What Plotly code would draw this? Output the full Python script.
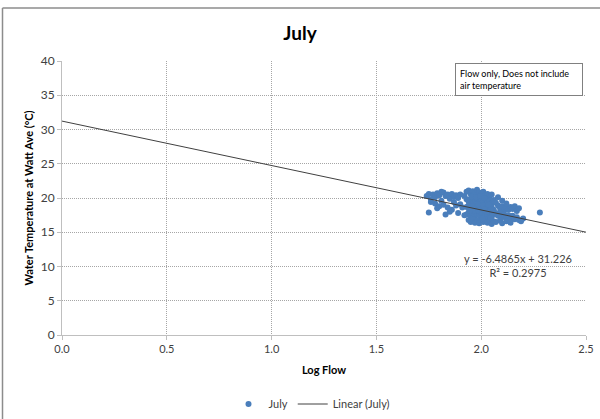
import plotly.graph_objects as go

# July observations: log of flow vs. water temperature at Watt Ave (°C)
log_flow = [
    1.74, 1.75, 1.76, 1.77, 1.78, 1.75, 1.79, 1.80, 1.81, 1.82, 1.83, 1.84, 1.85, 1.86, 1.87, 1.88, 1.89,
    1.78, 1.80, 1.82, 1.84, 1.86, 1.88, 1.83, 1.79, 1.76, 1.85, 1.87, 1.81, 1.90, 1.90, 1.89, 1.91, 1.92, 1.92,
    1.93, 1.94, 1.95, 1.96, 1.97, 1.98, 1.99, 2.00, 2.01, 2.02, 2.03, 2.04, 2.05,
    1.93, 1.94, 1.95, 1.96, 1.97, 1.98, 1.99, 2.00, 2.01, 2.02, 2.03, 2.04, 2.05, 2.06,
    1.93, 1.94, 1.95, 1.96, 1.97, 1.98, 1.99, 2.00, 2.01, 2.02, 2.03, 2.04, 2.05, 2.06,
    1.93, 1.94, 1.95, 1.96, 1.97, 1.98, 1.99, 2.00, 2.01, 2.02, 2.03, 2.04, 2.05, 2.06,
    1.94, 1.95, 1.96, 1.97, 1.98, 1.99, 2.00, 2.01, 2.02, 2.03, 2.04, 2.05, 2.06,
    1.955, 1.975, 1.995, 2.015, 1.965, 1.985, 2.005, 2.025, 2.045, 1.945, 2.035, 2.015, 1.985, 2.055,
    2.07, 2.08, 2.09, 2.10, 2.11, 2.12, 2.13, 2.14, 2.15, 2.16, 2.17, 2.18,
    2.07, 2.08, 2.09, 2.10, 2.11, 2.12, 2.13, 2.14, 2.15, 2.16, 2.17, 2.18,
    2.07, 2.09, 2.10, 2.12, 2.14, 2.08, 2.10, 2.12, 2.19, 2.20, 2.28,
]
water_temp = [
    20.3, 20.6, 19.8, 20.5, 20.1, 17.9, 20.7, 20.4, 19.6, 20.8, 20.3, 20.5, 19.9, 20.6, 20.2, 20.4, 20.0,
    19.2, 18.8, 19.0, 18.6, 18.3, 18.9, 17.6, 18.5, 19.4, 18.0, 19.4, 20.9, 20.5, 19.1, 17.8, 18.6, 20.3, 17.5,
    20.9, 21.1, 20.6, 21.0, 20.7, 21.2, 20.8, 20.5, 20.9, 20.4, 20.6, 20.2, 20.5,
    19.8, 19.5, 19.9, 19.3, 19.7, 19.9, 19.4, 19.8, 19.5, 19.9, 19.3, 19.6, 19.2, 19.7,
    18.7, 18.9, 18.4, 18.8, 18.5, 18.9, 18.3, 18.6, 18.9, 18.4, 18.7, 18.2, 18.6, 18.3,
    17.6, 17.9, 17.4, 17.8, 17.3, 17.7, 17.5, 17.9, 17.2, 17.6, 17.4, 17.8, 17.3, 17.6,
    16.8, 16.5, 16.9, 16.4, 16.7, 16.3, 16.8, 16.5, 16.9, 16.4, 16.7, 16.2, 16.6,
    20.2, 20.1, 20.3, 20.0, 18.1, 18.2, 17.0, 18.0, 17.1, 18.2, 19.0, 18.3, 19.1, 17.9,
    19.3, 18.9, 18.5, 18.8, 18.2, 18.6, 18.3, 18.7, 18.4, 18.8, 18.1, 18.5,
    17.8, 17.4, 17.9, 17.2, 17.6, 17.1, 17.5, 17.0, 17.4, 16.9, 17.2, 16.8,
    16.5, 16.7, 16.3, 16.6, 16.4, 20.1, 19.6, 19.2, 16.6, 17.0, 17.9,
]

# Linear trendline coefficients
slope = -6.4865
intercept = 31.226
r_squared = 0.2975
trend_x = [0.0, 2.5]
trend_y = [slope * x + intercept for x in trend_x]

x_ticks = [0.0, 0.5, 1.0, 1.5, 2.0, 2.5]
y_ticks = [0, 5, 10, 15, 20, 25, 30, 35, 40]

FONT = "Lato"
TEXT = "#404040"
GRID = "#A6A6A6"

# plot area in pixels
L, R, T, B = 62, 586, 61, 335
W, H = R - L, B - T


def px(xp):
    return (xp - L) / W


def py(yp):
    return (B - yp) / H


fig = go.Figure()
fig.add_trace(go.Scatter(
    x=log_flow, y=water_temp, mode="markers", name="July",
    marker=dict(color="#4A7EBB", size=6, line=dict(width=0)),
))
fig.add_trace(go.Scatter(
    x=trend_x, y=trend_y, mode="lines", name="Linear (July)",
    line=dict(color="#404040", width=1),
))

fig.update_layout(
    width=600, height=419,
    margin=dict(l=L, r=600 - R, t=T, b=419 - B, autoexpand=False),
    paper_bgcolor="white", plot_bgcolor="white",
    font=dict(family=FONT, size=11, color=TEXT),
    title=dict(text="<b>July</b>", x=0.5, xanchor="center", y=1 - 33 / 419, yanchor="middle",
               font=dict(family=FONT, size=19, color="#000000")),
    showlegend=True,
    legend=dict(orientation="h", xref="container", x=312 / 600, xanchor="center",
                yref="container", y=1 - 404 / 419, yanchor="middle",
                font=dict(family=FONT, size=11, color=TEXT), itemwidth=30),
    xaxis=dict(
        range=[0, 2.5], tickvals=x_ticks, ticktext=[f"{v:.1f}" for v in x_ticks],
        showgrid=True, gridcolor=GRID, griddash="1px,1px", gridwidth=1,
        showline=True, linecolor="#BFBFBF", linewidth=1,
        ticks="outside", ticklen=4, tickcolor="#BFBFBF",
        zeroline=False, automargin=False, tickfont=dict(size=11, color=TEXT),
        title=dict(text="<b>Log Flow</b>", font=dict(size=11, color="#000000"), standoff=12),
    ),
    yaxis=dict(
        range=[0, 40], tickvals=y_ticks,
        showgrid=True, gridcolor=GRID, griddash="1px,1px", gridwidth=1,
        showline=True, linecolor="#BFBFBF", linewidth=1,
        ticks="outside", ticklen=4, tickcolor="#BFBFBF",
        zeroline=False, automargin=True, tickfont=dict(size=12, color=TEXT),
        title=dict(text="<b>Water Temperature at Watt Ave (°C)</b>",
                   font=dict(size=11, color="#000000"), standoff=4),
    ),
)

# Trendline equation label
fig.add_annotation(
    x=px(518), y=py(265), xref="paper", yref="paper", showarrow=False,
    xanchor="center", yanchor="middle",
    text=f"y = {slope}x + {intercept}<br>R² = {r_squared}",
    font=dict(family=FONT, size=11, color=TEXT), align="center",
)

# Note box
fig.add_annotation(
    x=px(455), y=py(63), xref="paper", yref="paper",
    xanchor="left", yanchor="top", showarrow=False, align="left",
    text="Flow only, Does not include<br>air temperature",
    font=dict(family=FONT, size=9, color="#000000"),
    bordercolor="#808080", borderwidth=1, borderpad=4, bgcolor="white",
    width=118,
)

# Chart area border (left and top edges)
fig.add_shape(type="line", xref="paper", yref="paper",
              x0=px(2.5), x1=px(2.5), y0=py(8), y1=py(430),
              line=dict(color="#8C8C8C", width=1.5))
fig.add_shape(type="line", xref="paper", yref="paper",
              x0=px(2.5), x1=px(620), y0=py(8), y1=py(8),
              line=dict(color="#8C8C8C", width=1.5))

fig.write_html("out.html")
